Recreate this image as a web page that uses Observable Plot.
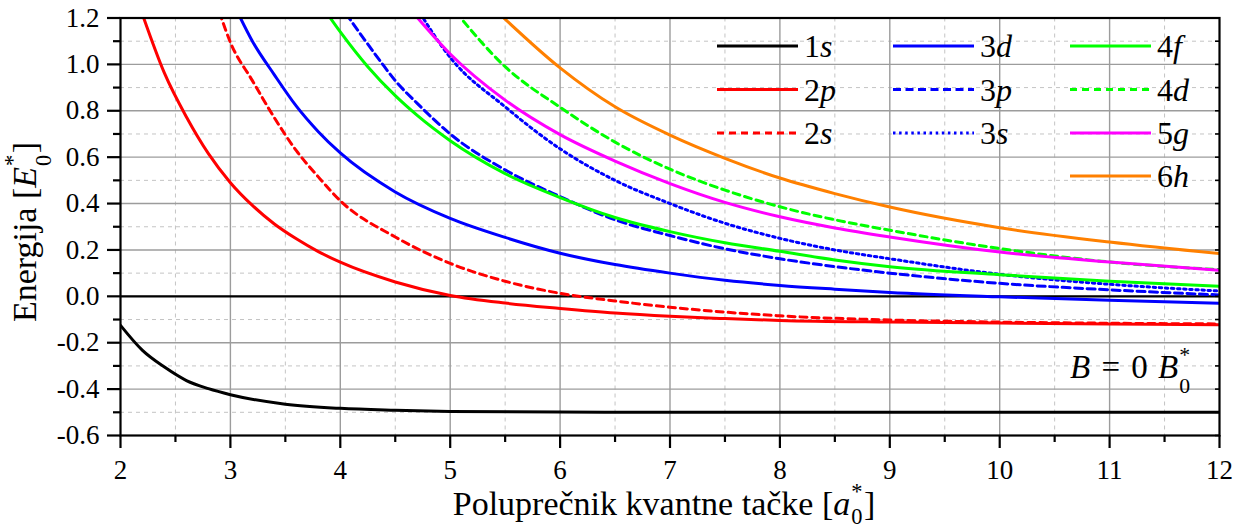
<!DOCTYPE html>
<html>
<head>
<meta charset="utf-8">
<script src="https://cdn.jsdelivr.net/npm/d3@7"></script>
<script src="https://cdn.jsdelivr.net/npm/@observablehq/plot@0.6"></script>
<style>
  html, body { margin: 0; padding: 0; background: #fff; }
  #chart svg, #chart svg text { font-family: "Liberation Serif", "Times New Roman", serif !important; }
</style>
</head>
<body>
<div id="chart"></div>
<script>
// Energy levels of a hydrogen-like impurity in a spherical quantum dot (B = 0)
// radius in a0*, energy in E0*
const r1s = [2, 2.2, 2.4, 2.6, 2.8, 3, 3.5, 4, 4.5, 5, 6, 7, 8, 9, 10, 11, 12];
const e1s = [-0.125, -0.233, -0.305, -0.363, -0.398, -0.424, -0.465, -0.483, -0.491, -0.496, -0.499, -0.5, -0.5, -0.5, -0.5, -0.5, -0.5];

const r2p = [2.2, 2.4, 2.6, 2.8, 3.0, 3.2, 3.4, 3.6, 3.8, 4.0, 4.5, 5, 5.5, 6, 6.5, 7, 7.5, 8, 9, 10, 11, 12];
const e2p = [1.215, 0.962, 0.773, 0.615, 0.49, 0.392, 0.312, 0.248, 0.193, 0.147, 0.062, 0.004, -0.029, -0.052, -0.072, -0.086, -0.096, -0.104, -0.111, -0.115, -0.119, -0.122];

const r2s = [2.9, 3.0, 3.2, 3.4, 3.6, 3.8, 4.0, 4.5, 5, 5.5, 6, 6.5, 7, 7.5, 8, 9, 10, 11, 12];
const e2s = [1.225, 1.095, 0.93, 0.77, 0.628, 0.515, 0.412, 0.256, 0.142, 0.065, 0.013, -0.02, -0.047, -0.068, -0.084, -0.102, -0.111, -0.116, -0.119];

const r3d = [3.05, 3.2, 3.4, 3.6, 3.8, 4.0, 4.5, 5, 5.5, 6, 6.5, 7, 7.5, 8, 8.5, 9, 10, 11, 12];
const e3d = [1.24, 1.10, 0.955, 0.82, 0.71, 0.618, 0.45, 0.336, 0.254, 0.186, 0.137, 0.10, 0.069, 0.047, 0.031, 0.017, -0.002, -0.017, -0.03];

const r3p = [4.05, 4.2, 4.37, 4.5, 4.7, 5, 5.5, 6, 6.5, 7, 7.5, 8, 8.5, 9, 10, 11, 12];
const e3p = [1.22, 1.12, 1.01, 0.93, 0.832, 0.70, 0.545, 0.43, 0.33, 0.262, 0.205, 0.162, 0.128, 0.100, 0.056, 0.028, 0.006];

const r3s = [4.7, 5, 5.5, 6, 6.5, 7, 7.5, 8, 8.5, 9, 10, 11, 12];
const e3s = [1.24, 1.03, 0.817, 0.636, 0.50, 0.40, 0.315, 0.25, 0.20, 0.162, 0.095, 0.052, 0.023];

const r4f = [3.85, 4.0, 4.25, 4.5, 4.7, 5, 5.5, 6, 6.5, 7, 7.5, 8, 8.5, 9, 10, 11, 12];
const e4f = [1.24, 1.14, 0.99, 0.865, 0.78, 0.671, 0.529, 0.426, 0.34, 0.279, 0.231, 0.194, 0.157, 0.128, 0.093, 0.065, 0.043];

const r4d = [5.05, 5.5, 6, 6.5, 7, 7.5, 8, 8.5, 9, 10, 11, 12];
const e4d = [1.226, 0.99, 0.815, 0.665, 0.548, 0.458, 0.386, 0.330, 0.285, 0.206, 0.148, 0.115];

const r5g = [4.65, 5, 5.5, 6, 6.5, 7, 7.5, 8, 8.5, 9, 10, 11, 12];
const e5g = [1.23, 1.045, 0.846, 0.697, 0.583, 0.486, 0.405, 0.343, 0.295, 0.256, 0.191, 0.148, 0.112];

const r6h = [5.45, 6, 6.5, 7, 7.5, 8, 8.5, 9, 10, 11, 12];
const e6h = [1.217, 0.985, 0.817, 0.695, 0.595, 0.51, 0.443, 0.385, 0.296, 0.234, 0.184];

// state label: principal number + orbital letter
const states = [
  {n: "1", l: "s", r: r1s, e: e1s, color: "#000000", dash: null},
  {n: "2", l: "p", r: r2p, e: e2p, color: "#ff0000", dash: null},
  {n: "2", l: "s", r: r2s, e: e2s, color: "#ff0000", dash: "7,5"},
  {n: "3", l: "d", r: r3d, e: e3d, color: "#0000ff", dash: null},
  {n: "3", l: "p", r: r3p, e: e3p, color: "#0000ff", dash: "8,4.5"},
  {n: "3", l: "s", r: r3s, e: e3s, color: "#0000ff", dash: "2.5,3.6"},
  {n: "4", l: "f", r: r4f, e: e4f, color: "#00ff00", dash: null},
  {n: "4", l: "d", r: r4d, e: e4d, color: "#00ff00", dash: "7,5"},
  {n: "5", l: "g", r: r5g, e: e5g, color: "#ff00ff", dash: null},
  {n: "6", l: "h", r: r6h, e: e6h, color: "#ff8000", dash: null}
];

const xMajor = d3.range(2, 12.01, 1);
const xMinor = d3.range(2.5, 12, 1);
const yMajor = [-0.6, -0.4, -0.2, 0, 0.2, 0.4, 0.6, 0.8, 1.0, 1.2];
const yMinor = [-0.5, -0.3, -0.1, 0.1, 0.3, 0.5, 0.7, 0.9, 1.1];

const W = 1240, H = 530;
const M = {top: 17.5, right: 21, bottom: 95, left: 120};
const FONT = '"Liberation Serif", "Times New Roman", serif';

const curveMarks = states.map(s =>
  Plot.line(s.r.map((r, i) => ({r, e: s.e[i]})), {
    x: "r", y: "e",
    stroke: s.color, strokeWidth: 3,
    strokeDasharray: s.dash || undefined,
    curve: "monotone-x", clip: true
  })
);

const plot = Plot.plot({
  width: W, height: H,
  marginTop: M.top, marginRight: M.right, marginBottom: M.bottom, marginLeft: M.left,
  style: {fontFamily: FONT, background: "#fff", color: "#000"},
  x: {domain: [2, 12]},
  y: {domain: [-0.6, 1.2]},
  marks: [
    Plot.gridX(xMinor, {stroke: "#c4c4c4", strokeOpacity: 1, strokeWidth: 1, strokeDasharray: "4,4"}),
    Plot.gridY(yMinor, {stroke: "#c4c4c4", strokeOpacity: 1, strokeWidth: 1, strokeDasharray: "4,4"}),
    Plot.gridX(xMajor.slice(1, -1), {stroke: "#9c9c9c", strokeOpacity: 1, strokeWidth: 1.4}),
    Plot.gridY(yMajor.slice(1, -1), {stroke: "#9c9c9c", strokeOpacity: 1, strokeWidth: 1.4}),
    Plot.ruleY([0], {stroke: "#000", strokeWidth: 2.2}),
    ...curveMarks,
    Plot.frame({stroke: "#000", strokeWidth: 2.2}),
    Plot.axisX(xMajor, {tickSize: 13, tickPadding: 11, fontSize: 27, tickFormat: d => String(d), label: null, strokeWidth: 2.2}),
    Plot.axisX(xMinor, {tickSize: 7, tickFormat: () => "", label: null, strokeWidth: 2.2}),
    Plot.axisY(yMajor, {tickSize: 13, tickPadding: 8, fontSize: 27, tickFormat: d => d.toFixed(1), label: null, strokeWidth: 2.2}),
    Plot.axisY(yMinor, {tickSize: 7, tickFormat: () => "", label: null, strokeWidth: 2.2}),
    Plot.axisY(yMinor.concat(yMajor), {anchor: "right", tickSize: -5, tickFormat: () => "", label: null, strokeWidth: 1.6})
  ]
});

document.getElementById("chart").appendChild(plot);

const svg = d3.select(plot);

// One text run; a piece may carry a stacked subscript and superscript.
function richText(parent, pieces, size, anchor, drop = 0.44) {
  const s = size * 0.66;          // index font size
  const down = size * drop;       // subscript drop
  const up = size * 0.48;         // superscript rise
  const t = parent.append("text")
    .attr("font-family", FONT).attr("font-size", size)
    .attr("text-anchor", anchor).attr("fill", "#000")
    .style("white-space", "pre");
  let pendingDy = 0;
  for (const p of pieces) {
    if (p.t) {
      const sp = t.append("tspan").attr("font-style", p.italic ? "italic" : "normal").text(p.t);
      let dx = p.dx || 0;
      if (pendingDy) { sp.attr("dy", pendingDy); dx += 1.5; pendingDy = 0; }
      if (dx) sp.attr("dx", dx);
    }
    if (p.sub || p.sup) {
      t.append("tspan").attr("font-size", s).attr("font-style", "normal")
        .attr("dx", 1).attr("dy", down).text(p.sub);
      t.append("tspan").attr("font-size", s).attr("font-style", "normal")
        .attr("dx", -0.5 * s).attr("dy", -(down + up)).text(p.sup);
      pendingDy = up;
    }
  }
  return t;
}

// axis titles
richText(svg.append("g").attr("transform", "translate(664,515)"),
  [{t: "Poluprečnik kvantne tačke ["}, {t: "a", italic: true, sub: "0", sup: "*"}, {t: "]"}], 34, "middle", 0.27);

richText(svg.append("g").attr("transform", "translate(36,232) rotate(-90)"),
  [{t: "Energija ["}, {t: "E", italic: true, sub: "0", sup: "*"}, {t: "]"}], 34, "middle");

// magnetic field annotation
richText(svg.append("g").attr("transform", "translate(1070,378)"),
  [{t: "B", italic: true}, {t: " =", dx: 3}, {t: " 0", dx: 3}, {t: " B", italic: true, dx: 2, sub: "0", sup: "*"}], 33, "start");

// legend: three columns inside the plotting area
const legCols = [[0, 1, 2], [3, 4, 5], [6, 7, 8, 9]];
const colX = [717, 893, 1070];
const rowY = [46, 89.5, 133, 176];
const lg = svg.append("g");
legCols.forEach((col, ci) => {
  col.forEach((si, ri) => {
    const s = states[si];
    const y = rowY[ri];
    lg.append("line")
      .attr("x1", colX[ci]).attr("x2", colX[ci] + 81)
      .attr("y1", y).attr("y2", y)
      .attr("stroke", s.color).attr("stroke-width", 3)
      .attr("stroke-dasharray", s.dash || null);
    const t = lg.append("text")
      .attr("x", colX[ci] + 87).attr("y", y + 11)
      .attr("text-anchor", "start")
      .attr("font-family", FONT).attr("font-size", 32).attr("fill", "#000");
    t.append("tspan").text(s.n);
    t.append("tspan").attr("font-style", "italic").text(s.l);
  });
});
</script>
</body>
</html>
